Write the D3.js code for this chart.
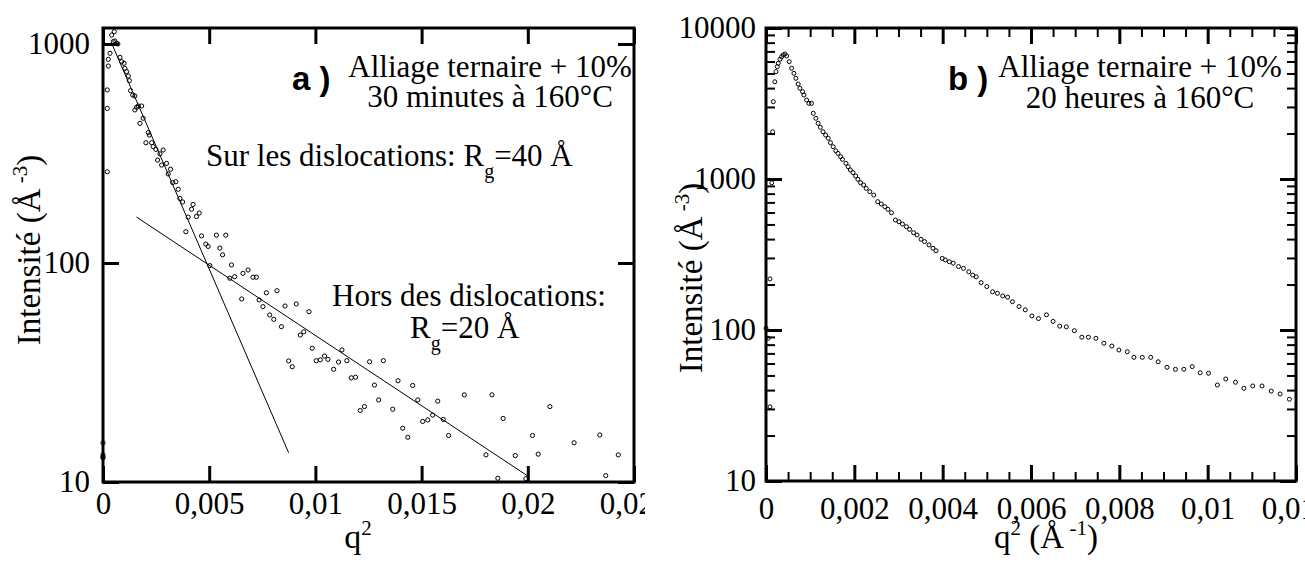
<!DOCTYPE html>
<html>
<head>
<meta charset="utf-8">
<script src="https://cdn.jsdelivr.net/npm/d3@7"></script>
<style>
body { margin: 0; background: #fff; }
</style>
</head>
<body>
<div id="chart"></div>
<script>
// Data, panel a (30 minutes)
var qA = [0.00053, 0.00041, 0.00048, 0.00056, 0.00064, 0.00070, 0.00033, 0.00025, 0.00025, 0.0002, 0.0002, 0.0002,
  0.0008, 0.00088, 0.00099, 0.00103, 0.00111, 0.00119, 0.00124, 0.0013, 0.0014, 0.0015, 0.00166, 0.00158, 0.0015,
  0.00182, 0.00189, 0.00174, 0.00213, 0.00218, 0.00202, 0.00229, 0.00236, 0.00249, 0.00283, 0.00268, 0.00257,
  0.00276, 0.00299, 0.00318, 0.00307, 0.00328, 0.00343, 0.00354, 0.00362, 0.00375, 0.00401, 0.00417, 0.00424,
  0.0044, 0.00453, 0.0039, 0.00464, 0.00484, 0.00495, 0.00534, 0.00578, 0.0055, 0.00563, 0.00503, 0.00605,
  0.00597, 0.0062, 0.00659, 0.00683, 0.00706, 0.00722, 0.00653, 0.00735, 0.00753, 0.00769, 0.00785, 0.00804,
  0.00819, 0.0084, 0.00857, 0.00874, 0.00891, 0.0091, 0.00929, 0.00945, 0.0097, 0.00985, 0.01004, 0.01023,
  0.01043, 0.01059, 0.01086, 0.01109, 0.01125, 0.01148, 0.01169, 0.01189, 0.01211, 0.01231, 0.01255, 0.01278,
  0.01298, 0.0132, 0.01364, 0.01389, 0.01411, 0.01435, 0.01458, 0.01482, 0.01505, 0.01529, 0.01552, 0.01576,
  0.01602, 0.01627, 0.01701, 0.01803, 0.01831, 0.01859, 0.01884, 0.01941, 0.01991, 0.02022, 0.02049, 0.02104,
  0.02218, 0.02339, 0.02367, 0.02426, 0, 0, 0, 0];
var intA = [1138, 1099, 1025, 1032, 1007, 1000, 907, 851, 793, 617, 508, 261,
  869, 830, 816, 774, 748, 714, 680, 612, 585, 579, 521, 514, 500,
  521, 458, 434, 394, 384, 354, 354, 340, 330, 328, 315, 295,
  280, 285, 268, 255, 233, 235, 217, 197, 190, 162, 176, 185,
  163, 169, 139, 133, 122, 119, 134, 134, 117, 109, 97.3, 98,
  85.2, 86.6, 89.7, 92.9, 86.1, 86.1, 68.5, 67.8, 63.2, 73.1, 57.9, 55.3,
  74.7, 51.2, 63.6, 35.7, 33.6, 65.0, 46.9, 48.5, 59.9, 40.8, 35.8, 36.1,
  37.6, 36.3, 32.7, 35.3, 40.1, 35.8, 29.9, 30.1, 21.2, 22.1, 35.4, 27.7,
  23.7, 35.8, 21.5, 29.0, 17.6, 16.0, 27.6, 23.7, 18.9, 19.2, 20.2, 23.4,
  19.3, 16.3, 25.0, 13.3, 25.0, 10.4, 19.5, 13.2, 10.35, 16.3, 13.4, 22.1,
  15.1, 16.4, 10.7, 13.3, 15.1, 13.3, 12.9, 13.0];

// Guinier fit lines, panel a
var fitSurQ = [0.00042, 0.00874];
var fitSurI = [1000, 13.6];
var fitHorsQ = [0.00158, 0.0200];
var fitHorsI = [162, 10.65];

// Data, panel b (20 heures)
var qB = [0.00009, 0.00005, 0.0, 0.00009, 0.00013, 0.00015, 0.000165, 0.0002, 0.000226, 0.000255, 0.000278,
  0.000316, 0.000354, 0.00039, 0.000429, 0.000467, 0.000526, 0.00058, 0.000632, 0.000677, 0.000729, 0.000767,
  0.000828, 0.000858, 0.000919, 0.000971, 0.00103, 0.00107, 0.00113, 0.00118, 0.00123, 0.00129, 0.00135,
  0.00141, 0.00146, 0.00152, 0.00158, 0.00163, 0.00169, 0.00173, 0.00181, 0.00186, 0.00191, 0.00197, 0.00203,
  0.00208, 0.00214, 0.00221, 0.00227, 0.00235, 0.00244, 0.00253, 0.00261, 0.00269, 0.00276, 0.00284, 0.00293,
  0.00301, 0.00309, 0.00318, 0.00325, 0.00334, 0.00342, 0.00351, 0.00359, 0.00369, 0.00378, 0.00385, 0.00399,
  0.00406, 0.00415, 0.00424, 0.00436, 0.00447, 0.00459, 0.00468, 0.00476, 0.00487, 0.005, 0.00513, 0.00524,
  0.00536, 0.00547, 0.00558, 0.00573, 0.00587, 0.00602, 0.00617, 0.00635, 0.0065, 0.00665, 0.0068, 0.00698,
  0.00715, 0.0073, 0.00747, 0.00765, 0.00783, 0.00799, 0.00818, 0.00833, 0.00852, 0.00871, 0.00888, 0.00908,
  0.00927, 0.00946, 0.00965, 0.00983, 0.01002, 0.01022, 0.01041, 0.01063, 0.01082, 0.01102, 0.01123, 0.01144,
  0.01164, 0.01185];
var intB = [31.0, 88.1, 102.6, 218, 944, 2055, 3250, 4406, 5140, 5545, 5838,
  6207, 6460, 6627, 6730, 6530, 5985, 5410, 5010, 4645, 4255, 3990,
  3787, 3597, 3334, 3170, 3170, 2723, 2523, 2337, 2200, 2055, 1954,
  1860, 1740, 1636, 1538, 1479, 1405, 1350, 1270, 1206, 1148, 1102, 1047,
  995, 945, 912, 867, 824, 783, 708, 683, 656, 630, 598, 535,
  521, 503, 483, 464, 441, 426, 399, 385, 366, 348, 335, 298,
  291, 283, 277, 263, 256, 243, 231, 225, 206, 194, 179, 175,
  168, 165, 154, 143, 136, 124, 119, 126, 114, 106, 105, 99,
  89.6, 89.6, 88.1, 81.7, 78.3, 73.7, 71.8, 65.9, 65.9, 65.9, 61.6, 56.6,
  54.9, 54.9, 57.2, 52.1, 51.7, 43.2, 47.4, 45.1, 41.1, 42.6, 42.6, 39.4,
  37.7, 34.8];

// Ticks and labels
var xTicksA = [0, 0.005, 0.01, 0.015, 0.02, 0.025];
var xLabelsA = ["0", "0,005", "0,01", "0,015", "0,02", "0,025"];
var yTicksA = [10, 100, 1000];
var yLabelsA = ["10", "100", "1000"];
var xTicksB = [0, 0.002, 0.004, 0.006, 0.008, 0.01, 0.012];
var xLabelsB = ["0", "0,002", "0,004", "0,006", "0,008", "0,01", "0,012"];
var yTicksB = [10, 100, 1000, 10000];
var yLabelsB = ["10", "100", "1000", "10000"];

var chart_width = 1305;
var chart_height = 563;
var tick_font = 31;
var serif = "'Liberation Serif', Tinos, 'Times New Roman', 'DejaVu Serif', serif";
var sans = "'Liberation Sans', Arimo, Arial, sans-serif";

var svg = d3.select("#chart")
  .append("svg")
  .attr("width", chart_width)
  .attr("height", chart_height)
  .style("font-family", serif);

// Scales
var xA = d3.scaleLinear().domain([0, 0.025]).range([103, 634]);
var yA = d3.scaleLog().domain([10, 1183]).range([482, 28]);
var xB = d3.scaleLinear().domain([0, 0.012]).range([766, 1296]);
var yB = d3.scaleLog().domain([10, 10000]).range([481, 28]);

svg.append("clipPath").attr("id", "clipA")
  .append("rect").attr("x", 0).attr("y", 0).attr("width", 645).attr("height", chart_height);

function styleAxis(g, width) {
  g.select(".domain").remove();
  g.attr("font-family", null).attr("font-size", tick_font);
  g.selectAll("line").attr("stroke", "#000").attr("stroke-width", width);
  g.selectAll("text").attr("fill", "#000");
}

// draw one panel frame with inward ticks
function drawAxes(g, x, y, xt, xl, yt, yl, padX, padY, minor) {
  var x0 = x.range()[0], x1 = x.range()[1];
  var yb = y.range()[0], yt0 = y.range()[1];

  if (minor) {
    var xm = x.ticks(24).filter(d => xt.indexOf(d) < 0 && Math.abs(d * 1000 % 2) > 1e-6);
    var ym = y.ticks().filter(d => yt.indexOf(d) < 0);
    g.append("g").attr("transform", "translate(0," + yb + ")")
      .call(d3.axisBottom(x).tickValues(xm).tickFormat("").tickSize(-9)).call(s => styleAxis(s, 2));
    g.append("g").attr("transform", "translate(0," + yt0 + ")")
      .call(d3.axisTop(x).tickValues(xm).tickFormat("").tickSize(-9)).call(s => styleAxis(s, 2));
    g.append("g").attr("transform", "translate(" + x0 + ",0)")
      .call(d3.axisLeft(y).tickValues(ym).tickFormat("").tickSize(-9)).call(s => styleAxis(s, 2));
    g.append("g").attr("transform", "translate(" + x1 + ",0)")
      .call(d3.axisRight(y).tickValues(ym).tickFormat("").tickSize(-9)).call(s => styleAxis(s, 2));
  }

  g.append("g").attr("transform", "translate(0," + yb + ")")
    .call(d3.axisBottom(x).tickValues(xt).tickFormat((d, i) => xl[i]).tickSize(-16).tickPadding(padX))
    .call(s => styleAxis(s, 3));
  g.append("g").attr("transform", "translate(0," + yt0 + ")")
    .call(d3.axisTop(x).tickValues(xt).tickFormat("").tickSize(-16))
    .call(s => styleAxis(s, 3));
  g.append("g").attr("transform", "translate(" + x0 + ",0)")
    .call(d3.axisLeft(y).tickValues(yt).tickFormat((d, i) => yl[i]).tickSize(-16).tickPadding(padY))
    .call(s => styleAxis(s, 3));
  g.append("g").attr("transform", "translate(" + x1 + ",0)")
    .call(d3.axisRight(y).tickValues(yt).tickFormat("").tickSize(-16))
    .call(s => styleAxis(s, 3));

  g.append("rect")
    .attr("x", x0).attr("y", yt0)
    .attr("width", x1 - x0).attr("height", yb - yt0)
    .attr("fill", "none").attr("stroke", "#000").attr("stroke-width", 3);
}

// text with sub/superscript pieces: [text, shift, size]
function richText(g, x, y, parts, size, anchor, rotate) {
  var t = g.append("text")
    .attr("text-anchor", anchor || "start")
    .attr("font-size", size);
  if (rotate) t.attr("transform", "translate(" + x + "," + y + ") rotate(-90)");
  else t.attr("x", x).attr("y", y);
  var cur = 0;
  parts.forEach(function (p) {
    var shift = p[1] || 0;
    t.append("tspan")
      .attr("dy", shift - cur)
      .attr("font-size", p[2] || size)
      .text(p[0]);
    cur = shift;
  });
  return t;
}

// ---------- Panel a ----------
var panelA = svg.append("g").attr("clip-path", "url(#clipA)");
drawAxes(panelA, xA, yA, xTicksA, xLabelsA, yTicksA, yLabelsA, 10, 13, false);

var fitLine = d3.line()
  .x(d => xA(d[0]))
  .y(d => yA(d[1]));

panelA.append("path")
  .datum(d3.zip(fitSurQ, fitSurI))
  .attr("d", fitLine)
  .attr("fill", "none").attr("stroke", "#000").attr("stroke-width", 1);
panelA.append("path")
  .datum(d3.zip(fitHorsQ, fitHorsI))
  .attr("d", fitLine)
  .attr("fill", "none").attr("stroke", "#000").attr("stroke-width", 1);

panelA.selectAll("circle.pa")
  .data(d3.zip(qA, intA))
  .enter()
  .append("circle")
  .attr("class", "pa")
  .attr("cx", d => xA(d[0]))
  .attr("cy", d => yA(d[1]))
  .attr("r", 2.1)
  .attr("fill", "none")
  .attr("stroke", "#000")
  .attr("stroke-width", 1);

panelA.append("text").attr("class", "sans").attr("x", 292).attr("y", 90)
  .attr("font-size", 33).attr("font-weight", "bold")
  .text("a )");
panelA.append("text").attr("x", 490).attr("y", 77).attr("text-anchor", "middle")
  .attr("font-size", 31).text("Alliage ternaire + 10%");
panelA.append("text").attr("x", 490).attr("y", 107).attr("text-anchor", "middle")
  .attr("font-size", 31).text("30 minutes à 160°C");
richText(panelA, 206, 166, [["Sur les dislocations: R"], ["g", 12, 20], ["=40 Å", 0]], 31);
panelA.append("text").attr("x", 469).attr("y", 306).attr("text-anchor", "middle")
  .attr("font-size", 31).text("Hors des dislocations:");
richText(panelA, 410, 338, [["R"], ["g", 12, 20], ["=20 Å", 0]], 31);

richText(panelA, 40, 250, [["Intensité (Å"], [" -3", -13, 21], [")", 0]], 33, "middle", true);
richText(panelA, 358, 548, [["q"], ["2", -13, 21]], 34, "middle");

// ---------- Panel b ----------
var panelB = svg.append("g");
drawAxes(panelB, xB, yB, xTicksB, xLabelsB, yTicksB, yLabelsB, 16, 10, true);

panelB.selectAll("circle.pb")
  .data(d3.zip(qB, intB))
  .enter()
  .append("circle")
  .attr("class", "pb")
  .attr("cx", d => xB(d[0]))
  .attr("cy", d => yB(d[1]))
  .attr("r", 2)
  .attr("fill", "none")
  .attr("stroke", "#000")
  .attr("stroke-width", 1);

panelB.append("text").attr("class", "sans").attr("x", 948).attr("y", 90)
  .attr("font-size", 33).attr("font-weight", "bold")
  .text("b )");
panelB.append("text").attr("x", 1140).attr("y", 77).attr("text-anchor", "middle")
  .attr("font-size", 31).text("Alliage ternaire + 10%");
panelB.append("text").attr("x", 1140).attr("y", 108).attr("text-anchor", "middle")
  .attr("font-size", 31).text("20 heures à 160°C");

richText(panelB, 702, 278, [["Intensité (Å"], [" -3", -13, 21], [")", 0]], 33, "middle", true);
richText(panelB, 1046, 548, [["q"], ["2", -13, 21], [" (Å", 0], [" -1", -13, 21], [")", 0]], 33, "middle");

// fonts, set inline on every text
svg.selectAll("text").style("font-family", serif).style("fill", "#000");
svg.selectAll("text.sans").style("font-family", sans);
</script>
</body>
</html>
